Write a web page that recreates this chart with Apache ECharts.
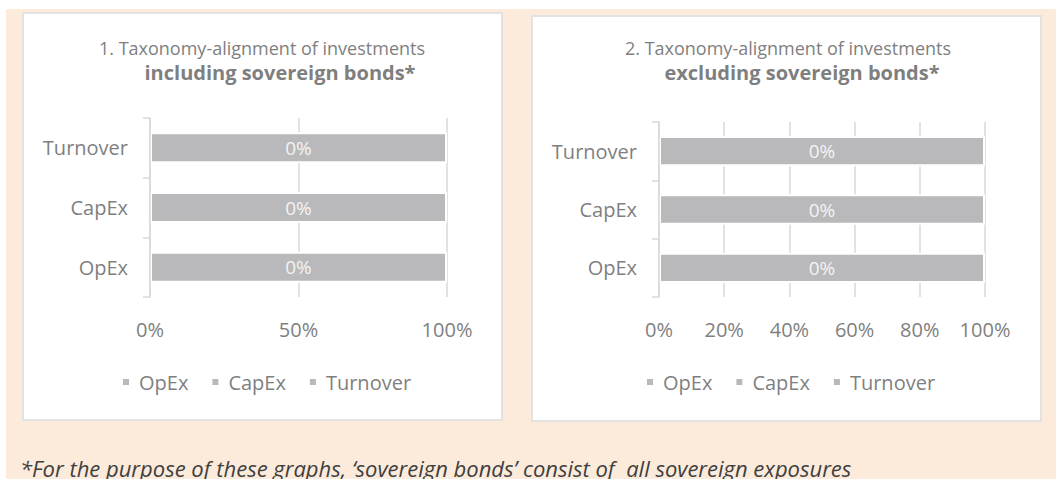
<!DOCTYPE html>
<html><head><meta charset="utf-8">
<script src="https://cdn.jsdelivr.net/npm/echarts@6/dist/echarts.min.js"></script>
<style>
html,body{margin:0;padding:0;background:#fff;width:1056px;height:479px;overflow:hidden;}
#bg{position:absolute;left:6px;top:9px;width:1050px;height:470px;background:#FCEBDB;}
.panel{position:absolute;background:#fff;border:2px solid #e2e2e2;box-sizing:border-box;}
#chart{position:absolute;left:0;top:0;width:1056px;height:479px;}
</style></head><body>
<div id="bg"></div>
<div class="panel" style="left:22px;top:12px;width:481px;height:409px"></div>
<div class="panel" style="left:531px;top:15px;width:511px;height:407px"></div>
<div id="chart"></div>
<script>
// ---- data ----
const categories = ['OpEx', 'CapEx', 'Turnover'];
const seriesNames = ['OpEx', 'CapEx', 'Turnover'];
const alignedIncl = [0, 0, 0];        // taxonomy-aligned share shown as label (%)
const barIncl = [100, 100, 100];      // bar length (%)
const alignedExcl = [0, 0, 0];
const barExcl = [100, 100, 100];
const ticksIncl = [0, 50, 100];
const ticksExcl = [0, 20, 40, 60, 80, 100];
const title1 = ['1. Taxonomy-alignment of investments', 'including sovereign bonds*'];
const title2 = ['2. Taxonomy-alignment of investments', 'excluding sovereign bonds*'];
const footnote = '*For the purpose of these graphs, \u2018sovereign bonds\u2019 consist of  all sovereign exposures';

// ---- style ----
const FONT = '"Open Sans", "Noto Sans", sans-serif';
const TXT = '#7f7f7f';
const BAR = '#b9b8ba';
const LINE = '#d9d9d9';

const chart = echarts.init(document.getElementById('chart'), null, {renderer: 'svg'});

function xAxis(gi, ticks) {
  return {
    type: 'value', gridIndex: gi,
    min: ticks[0], max: ticks[ticks.length - 1], interval: ticks[1] - ticks[0],
    axisLine: {show: false}, axisTick: {show: false},
    splitLine: {show: true, lineStyle: {color: LINE, width: 1.5}},
    axisLabel: {formatter: '{value}%', color: TXT, fontSize: 20, fontFamily: FONT, margin: 22}
  };
}
function yAxis(gi) {
  return {
    type: 'category', gridIndex: gi, data: categories, z: 5,
    axisLine: {show: true, lineStyle: {color: LINE, width: 1.5}},
    axisTick: {show: true, length: 7, lineStyle: {color: LINE, width: 1.5}},
    axisLabel: {color: TXT, fontSize: 20, fontFamily: FONT, margin: 22},
    splitLine: {show: false}
  };
}
function makeSeries(gi, bars, aligned) {
  return seriesNames.map((name, si) => ({
    type: 'bar', name, xAxisIndex: gi, yAxisIndex: gi, stack: 'g' + gi,
    barWidth: '52%',
    data: categories.map((c, ci) => ci === si ? bars[ci] : '-'),
    itemStyle: {color: BAR, borderColor: '#ffffff', borderWidth: 2},
    label: {show: true, position: 'inside', color: '#f4f4f4', fontSize: 19, fontFamily: FONT,
      formatter: p => aligned[p.dataIndex] + '%'},
    emphasis: {disabled: true}, silent: true
  }));
}
function legend(left) {
  return {
    data: seriesNames, left, top: 372, padding: 0, icon: 'rect', itemWidth: 8, itemHeight: 8, itemGap: 22,
    selectedMode: false,
    textStyle: {color: TXT, fontSize: 20, fontFamily: FONT, padding: [0, 0, 0, 4]}
  };
}
function titleText(x, x2, lines) {
  return [
    {type: 'text', x, y: 48, style: {text: lines[0], fill: TXT, font: '18px ' + FONT, textAlign: 'center', textVerticalAlign: 'middle'}},
    {type: 'text', x: x2, y: 72, style: {text: lines[1], fill: TXT, font: 'bold 20px ' + FONT, textAlign: 'center', textVerticalAlign: 'middle'}}
  ];
}

chart.setOption({
  animation: false,
  backgroundColor: 'transparent',
  grid: [
    {left: 150, top: 118, width: 297, height: 179},
    {left: 659, top: 122, width: 326, height: 175}
  ],
  xAxis: [xAxis(0, ticksIncl), xAxis(1, ticksExcl)],
  yAxis: [yAxis(0), yAxis(1)],
  legend: [legend(121), legend(645)],
  series: [...makeSeries(0, barIncl, alignedIncl), ...makeSeries(1, barExcl, alignedExcl)],
  graphic: [
    ...titleText(262, 280, title1),
    ...titleText(788, 802, title2),
    {type: 'text', x: 20, y: 468, style: {text: footnote, fill: '#404040', font: 'italic 22px ' + FONT, textAlign: 'left', textVerticalAlign: 'middle'}}
  ]
});
</script>
</body></html>
